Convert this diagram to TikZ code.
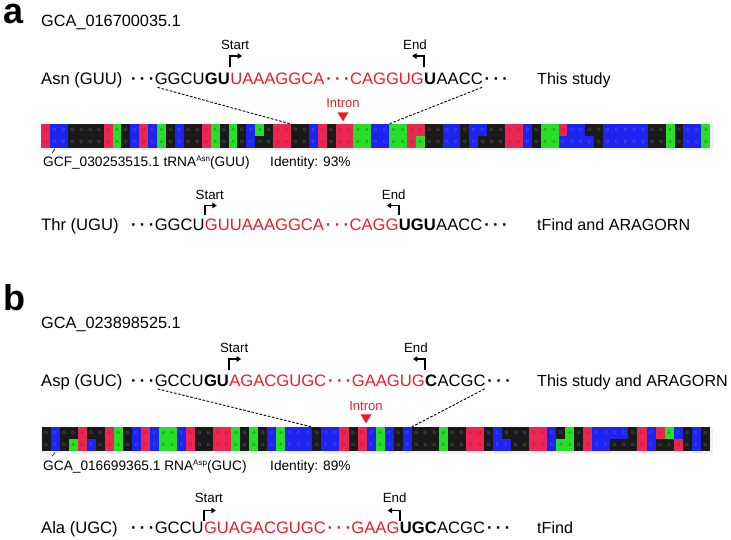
\documentclass[tikz,border=0pt]{standalone}
\usepackage{fontspec}
\setmainfont{Liberation Sans}
\usetikzlibrary{positioning,arrows.meta}
\definecolor{seqred}{RGB}{237,28,36}
\definecolor{cellA}{RGB}{40,222,40}
\definecolor{cellC}{RGB}{30,36,240}
\definecolor{cellG}{RGB}{26,26,26}
\definecolor{cellU}{RGB}{232,40,82}
\definecolor{txtA}{RGB}{20,120,20}
\definecolor{txtC}{RGB}{100,110,255}
\definecolor{txtG}{RGB}{110,110,110}
\definecolor{txtU}{RGB}{200,0,20}
\newcommand{\seqdots}{\hspace{1.5pt}\textbf{·}\hspace{3.4pt}\textbf{·}\hspace{3.4pt}\textbf{·}\hspace{1.5pt}}
\newcommand{\aasup}[1]{\raisebox{5pt}{\fontsize{8}{8}\selectfont #1}}

\begin{document}
\begin{tikzpicture}[x=1pt, y=-1pt,
  seq/.style={font=\fontsize{16.6}{19}\selectfont, inner sep=0pt, anchor=base west},
  hit/.style={seq, text=seqred},
  strong/.style={seq, font=\fontsize{16.6}{19}\selectfont\bfseries},
  source/.style={seq, font=\fontsize{16.1}{19}\selectfont},
  tag/.style={font=\fontsize{13.3}{15}\selectfont, inner sep=0pt, anchor=base},
  note/.style={font=\fontsize{13.7}{16}\selectfont, inner sep=0pt, anchor=base west},
  panel/.style={font=\fontsize{36}{40}\selectfont\bfseries, inner sep=0pt, anchor=base west},
  cell/.style={minimum width=\cw pt, minimum height=\ch pt, inner sep=0pt,
    anchor=north west, font=\fontsize{4.6}{5}\selectfont},
  pointer/.style={line width=1.8pt, -{Triangle[length=4.5pt,width=5.5pt]}},
  guide/.style={dash pattern=on 2.6pt off 1.6pt, line width=0.9pt},
]
\useasboundingbox (0,0) rectangle (731,540);

%%%%% panel a
\node[panel] (pa) at (3,23.5) {a};
\node[seq, font=\fontsize{16.3}{19}\selectfont] (a1gca) at (41,26.5) {GCA\_016700035.1};

% Asn (GUU), this study
\node[seq] (a1lab) at (41,85) {Asn (GUU)};
\node[seq] (a1d1) at (129.3,85) {\seqdots};
\node[seq] (a1s1) at (a1d1.base east) {GGCU};
\node[strong] (a1s2) at (a1s1.base east) {GU};
\node[hit] (a1s3) at (a1s2.base east) {UAAAGGCA};
\node[hit] (a1d2) at (a1s3.base east) {\seqdots};
\node[hit] (a1s4) at (a1d2.base east) {CAGGUG};
\node[strong] (a1s5) at (a1s4.base east) {U};
\node[seq] (a1s6) at (a1s5.base east) {AACC};
\node[seq] (a1d3) at (a1s6.base east) {\seqdots};
\node[source] (a1ref) at (537,85) {This study};

\draw[pointer] (a1s3.west |- 0,67) -- (a1s3.west |- 0,56) -- ++(12,0);
\node[tag, xshift=5pt] (a1start) at (a1s3.west |- 0,50) {Start};
\draw[pointer] (a1s5.west |- 0,67) -- (a1s5.west |- 0,56) -- ++(-12,0);
\node[tag, xshift=-9pt] (a1end) at (a1s5.west |- 0,50) {End};

% intron mark
\node[tag, text=seqred, font=\fontsize{13}{15}\selectfont] (a1in) at (343,108) {Intron};
\fill[seqred] (a1in.south) ++(-5.5,4) -- ++(11,0) -- ++(-5.5,9) -- cycle;

% alignment a
\fill[gray!12] (41,125) rectangle (713.5,150.5);
\def\cw{9.1}\def\ch{11.9}
\foreach \c [count=\i] in {U,C,C,G,G,G,G,U,A,G, C,U,C,A,G,C,G,G,U,A, G,A,G,C,A,G,U,U,G,G,
  C,U,G,U,U,A,A,C,C,A, A,U,U,G,G,C,C,G,C,C, G,G,U,U,C,G,A,A,U,C, C,G,G,C,C,C,C,C,G,G, A,G,C,C,A}
  \node[cell, fill=cell\c, text=txt\c] (at\i) at ({41+(\i-1)*8.92},124) {\c};
\foreach \c [count=\i] in {U,C,C,G,G,G,G,U,A,G, C,U,C,A,G,C,G,G,U,A, G,A,G,C,G,G,U,U,G,G,
  C,U,G,U,U,A,A,C,C,A, A,U,A,G,G,C,C,G,C,G, G,G,U,U,C,G,A,A,C,C, C,C,G,C,C,C,C,C,G,G, A,G,C,C,A}
  \node[cell, fill=cell\c, text=txt\c] (ab\i) at ({41+(\i-1)*8.92},135.75) {\c};

\draw[guide] ([xshift=3pt,yshift=-2pt]a1s1.south west) -- (at29.north west);
\draw[guide] ([xshift=-1pt,yshift=-2pt]a1s6.south east) -- (at40.north west);

\node[note] (a1gcf) at (43,167) {GCF\_030253515.1 tRNA\aasup{Asn}(GUU)};
\node[note] (a1id) at (270,167) {Identity: 93\%};
\draw[line width=0.6pt] ([yshift=-1pt]ab2.south) -- ([xshift=9pt,yshift=3pt]a1gcf.north west);

% Thr (UGU), tFind and ARAGORN
\node[seq] (a3lab) at (41,230.5) {Thr (UGU)};
\node[seq] (a3d1) at (129.3,230.5) {\seqdots};
\node[seq] (a3s1) at (a3d1.base east) {GGCU};
\node[hit] (a3s2) at (a3s1.base east) {GUUAAAGGCA};
\node[hit] (a3d2) at (a3s2.base east) {\seqdots};
\node[hit] (a3s3) at (a3d2.base east) {CAGG};
\node[strong] (a3s4) at (a3s3.base east) {UGU};
\node[seq] (a3s5) at (a3s4.base east) {AACC};
\node[seq] (a3d3) at (a3s5.base east) {\seqdots};
\node[source] (a3ref) at (537,230.5) {tFind and ARAGORN};

\draw[pointer] (a3s2.west |- 0,215) -- (a3s2.west |- 0,205.5) -- ++(12,0);
\node[tag, xshift=5pt] (a3start) at (a3s2.west |- 0,200) {Start};
\draw[pointer] (a3s4.west |- 0,215) -- (a3s4.west |- 0,205.5) -- ++(-12,0);
\node[tag, xshift=-5pt] (a3end) at (a3s4.west |- 0,200) {End};

%%%%% panel b
\node[panel] (pb) at (3,310) {b};
\node[seq, font=\fontsize{16.3}{19}\selectfont] (b1gca) at (41,328.5) {GCA\_023898525.1};

% Asp (GUC), this study and ARAGORN
\node[seq] (b1lab) at (41,386.5) {Asp (GUC)};
\node[seq] (b1d1) at (129.3,386.5) {\seqdots};
\node[seq] (b1s1) at (b1d1.base east) {GCCU};
\node[strong] (b1s2) at (b1s1.base east) {GU};
\node[hit] (b1s3) at (b1s2.base east) {AGACGUGC};
\node[hit] (b1d2) at (b1s3.base east) {\seqdots};
\node[hit] (b1s4) at (b1d2.base east) {GAAGUG};
\node[strong] (b1s5) at (b1s4.base east) {C};
\node[seq] (b1s6) at (b1s5.base east) {ACGC};
\node[seq] (b1d3) at (b1s6.base east) {\seqdots};
\node[source] (b1ref) at (537,386.5) {This study and ARAGORN};

\draw[pointer] (b1s3.west |- 0,370) -- (b1s3.west |- 0,359) -- ++(12,0);
\node[tag, xshift=5pt] (b1start) at (b1s3.west |- 0,352) {Start};
\draw[pointer] (b1s5.west |- 0,370) -- (b1s5.west |- 0,359) -- ++(-12,0);
\node[tag, xshift=-9pt] (b1end) at (b1s5.west |- 0,352) {End};

\node[tag, text=seqred, font=\fontsize{13}{15}\selectfont] (b1in) at (366,410) {Intron};
\fill[seqred] (b1in.south) ++(-5.5,4) -- ++(11,0) -- ++(-5.5,9) -- cycle;

% alignment b
\fill[gray!12] (41.3,428) rectangle (712.5,454);
\def\cw{9.2}\def\ch{12.1}
\foreach \c [count=\i] in {G,C,G,G,U,G,G,U,A,G, C,U,C,A,A,C,U,G,G,U, U,A,G,A,G,C,A,C,C,C,
  G,C,C,U,G,U,C,A,C,G, C,G,G,G,A,G,G,U,U,G, C,G,G,G,U,U,C,G,A,G, U,C,C,C,C,G,U,C,U,A, C,G,C,G}
  \node[cell, fill=cell\c, text=txt\c] (bt\i) at ({41.3+(\i-1)*9.03},427) {\c};
\foreach \c [count=\i] in {G,C,G,A,U,C,G,U,A,G, C,U,C,A,A,C,U,G,G,U, U,A,G,A,G,C,A,C,C,C,
  G,C,C,U,G,U,C,A,C,G, C,G,G,G,A,G,G,U,U,G, C,C,G,G,U,U,C,A,A,G, U,C,C,G,G,G,U,C,G,G, U,G,C,G}
  \node[cell, fill=cell\c, text=txt\c] (bb\i) at ({41.3+(\i-1)*9.03},439) {\c};

\draw[guide] ([xshift=3pt,yshift=-2pt]b1s1.south west) -- (bt31.north west);
\draw[guide] ([xshift=-1pt,yshift=-2pt]b1s6.south east) -- (bt42.north west);

\node[note] (b1gcf) at (43,470) {GCA\_016699365.1 RNA\aasup{Asp}(GUC)};
\node[note] (b1id) at (270,470) {Identity: 89\%};
\draw[line width=0.6pt] ([yshift=-1pt]bb2.south) -- ([xshift=9pt,yshift=3pt]b1gcf.north west);

% Ala (UGC), tFind
\node[seq] (b3lab) at (41,533) {Ala (UGC)};
\node[seq] (b3d1) at (129.3,533) {\seqdots};
\node[seq] (b3s1) at (b3d1.base east) {GCCU};
\node[hit] (b3s2) at (b3s1.base east) {GUAGACGUGC};
\node[hit] (b3d2) at (b3s2.base east) {\seqdots};
\node[hit] (b3s3) at (b3d2.base east) {GAAG};
\node[strong] (b3s4) at (b3s3.base east) {UGC};
\node[seq] (b3s5) at (b3s4.base east) {ACGC};
\node[seq] (b3d3) at (b3s5.base east) {\seqdots};
\node[source] (b3ref) at (537,533) {tFind};

\draw[pointer] (b3s2.west |- 0,521) -- (b3s2.west |- 0,510.5) -- ++(12,0);
\node[tag, xshift=5pt] (b3start) at (b3s2.west |- 0,502) {Start};
\draw[pointer] (b3s4.west |- 0,521) -- (b3s4.west |- 0,510.5) -- ++(-12,0);
\node[tag, xshift=-5pt] (b3end) at (b3s4.west |- 0,502) {End};
\end{tikzpicture}
\end{document}
